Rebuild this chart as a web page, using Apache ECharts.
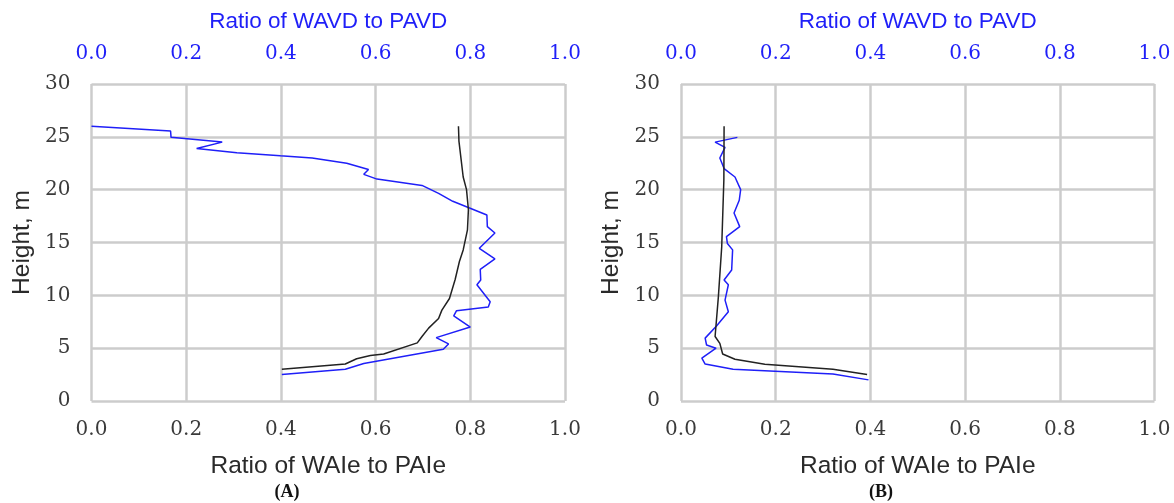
<!DOCTYPE html>
<html><head><meta charset="utf-8">
<script src="https://cdn.jsdelivr.net/npm/echarts@6/dist/echarts.min.js"></script>
<style>html,body{margin:0;padding:0;background:#fff}#c{width:1174px;height:503px}</style>
</head><body><div id="c"></div>
<script>
// Panel A: ratio of WAIe to PAIe (black, bottom axis)
const aWAIeH = [26.0, 24.6, 21.2, 20.0, 18.1, 16.2, 14.3, 13.2, 11.5, 9.7, 8.6, 7.8, 6.9, 6.1, 5.5, 4.45, 4.3, 4.0, 3.5, 3.0];
const aWAIeX = [0.775, 0.776, 0.785, 0.792, 0.796, 0.794, 0.785, 0.777, 0.768, 0.756, 0.740, 0.733, 0.712, 0.698, 0.688, 0.617, 0.589, 0.560, 0.536, 0.402];
// Panel A: ratio of WAVD to PAVD (blue, top axis)
const aWAVDH = [26.0, 25.55, 24.95, 24.5, 23.9, 23.5, 23.2, 23.0, 22.5, 21.9, 21.45, 21.0, 20.4, 19.65, 18.9, 17.6, 16.5, 15.9, 14.45, 13.45, 12.45, 11.45, 11.0, 9.4, 8.9, 8.55, 8.05, 7.0, 6.0, 5.4, 4.9, 3.55, 3.0, 2.5];
const aWAVDX = [0.0, 0.167, 0.168, 0.276, 0.222, 0.307, 0.399, 0.466, 0.539, 0.585, 0.575, 0.603, 0.698, 0.733, 0.763, 0.835, 0.836, 0.852, 0.819, 0.852, 0.821, 0.822, 0.814, 0.842, 0.838, 0.771, 0.765, 0.800, 0.728, 0.754, 0.743, 0.575, 0.536, 0.402];
// Panel B
const bWAIeH = [26.0, 20.9, 14.6, 9.9, 6.1, 5.45, 4.45, 3.95, 3.47, 3.0, 2.5];
const bWAIeX = [0.091, 0.0905, 0.086, 0.079, 0.072, 0.082, 0.088, 0.114, 0.177, 0.321, 0.393];
const bWAVDH = [24.95, 24.5, 24.0, 23.0, 22.0, 21.2, 20.0, 19.0, 17.8, 16.5, 15.55, 14.9, 14.3, 12.4, 11.45, 11.0, 9.55, 8.45, 7.1, 5.95, 5.3, 5.0, 4.05, 3.5, 3.0, 2.55, 2.0];
const bWAVDX = [0.119, 0.072, 0.093, 0.082, 0.091, 0.114, 0.126, 0.123, 0.112, 0.124, 0.096, 0.098, 0.109, 0.107, 0.091, 0.100, 0.093, 0.100, 0.075, 0.051, 0.054, 0.074, 0.044, 0.051, 0.110, 0.321, 0.396];
const xTicks = ['0.0', '0.2', '0.4', '0.6', '0.8', '1.0'];
const yTicks = ['0', '5', '10', '15', '20', '25', '30'];
const panelLabels = ['(A)', '(B)'];
const bottomName = 'Ratio of WAIe to PAIe';
const topName = 'Ratio of WAVD to PAVD';
const yName = 'Height, m';

const BLUE = '#1f1ff8';
const GRID = '#cccccc';
const serif = 'DejaVu Serif';
const sans = 'Liberation Sans';
const pairs = (xs, hs) => xs.map((x, i) => [x, hs[i]]);

const grids = [
  {left: 91.5, right: 609, top: 84, bottom: 102},
  {left: 681, right: 19.5, top: 84, bottom: 102}
];
const xAxes = [], yAxes = [];
grids.forEach((g, gi) => {
  const common = {type: 'value', min: 0, max: 1, interval: 0.2, gridIndex: gi,
    axisLine: {show: false}, axisTick: {show: false}};
  xAxes.push(Object.assign({}, common, {
    position: 'bottom', name: bottomName, nameLocation: 'middle', nameGap: 53,
    nameTextStyle: {fontFamily: sans, fontSize: 24.5, color: '#2a2a2a'},
    axisLabel: {fontFamily: serif, fontSize: 20, color: '#3a3a3a', margin: 19,
      formatter: v => xTicks[Math.round(v / 0.2)]},
    splitLine: {show: true, lineStyle: {color: GRID, width: 2.5}}
  }));
  xAxes.push(Object.assign({}, common, {
    position: 'top', name: topName, nameLocation: 'middle', nameGap: 51,
    nameTextStyle: {fontFamily: sans, fontSize: 22.5, color: BLUE},
    axisLabel: {fontFamily: serif, fontSize: 20, color: BLUE, margin: 20,
      formatter: v => xTicks[Math.round(v / 0.2)]},
    splitLine: {show: false}
  }));
  yAxes.push({type: 'value', min: 0, max: 30, interval: 5, gridIndex: gi,
    name: yName, nameLocation: 'middle', nameGap: 57,
    nameTextStyle: {fontFamily: sans, fontSize: 24.5, color: '#2a2a2a'},
    axisLine: {show: false}, axisTick: {show: false},
    axisLabel: {fontFamily: serif, fontSize: 20, color: '#3a3a3a', margin: 21,
      formatter: v => yTicks[Math.round(v / 5)]},
    splitLine: {show: true, lineStyle: {color: GRID, width: 2.5}}
  });
});

const line = (data, xi, yi, color) => ({type: 'line', data, xAxisIndex: xi, yAxisIndex: yi,
  showSymbol: false, symbol: 'none', smooth: false, animation: false,
  lineStyle: {color, width: 1.5}, z: 3});

const chart = echarts.init(document.getElementById('c'));
chart.setOption({
  animation: false,
  backgroundColor: '#fff',
  title: [
    {text: panelLabels[0], left: 287, top: 483, padding: 0, textAlign: 'center',
      textStyle: {fontFamily: 'Liberation Serif', fontWeight: 'bold', fontSize: 18, color: '#111'}},
    {text: panelLabels[1], left: 881, top: 483, padding: 0, textAlign: 'center',
      textStyle: {fontFamily: 'Liberation Serif', fontWeight: 'bold', fontSize: 18, color: '#111'}}
  ],
  grid: grids,
  xAxis: xAxes,
  yAxis: yAxes,
  series: [
    line(pairs(aWAVDX, aWAVDH), 1, 0, BLUE),
    line(pairs(aWAIeX, aWAIeH), 0, 0, '#222'),
    line(pairs(bWAVDX, bWAVDH), 3, 1, BLUE),
    line(pairs(bWAIeX, bWAIeH), 2, 1, '#222')
  ]
});
</script></body></html>
